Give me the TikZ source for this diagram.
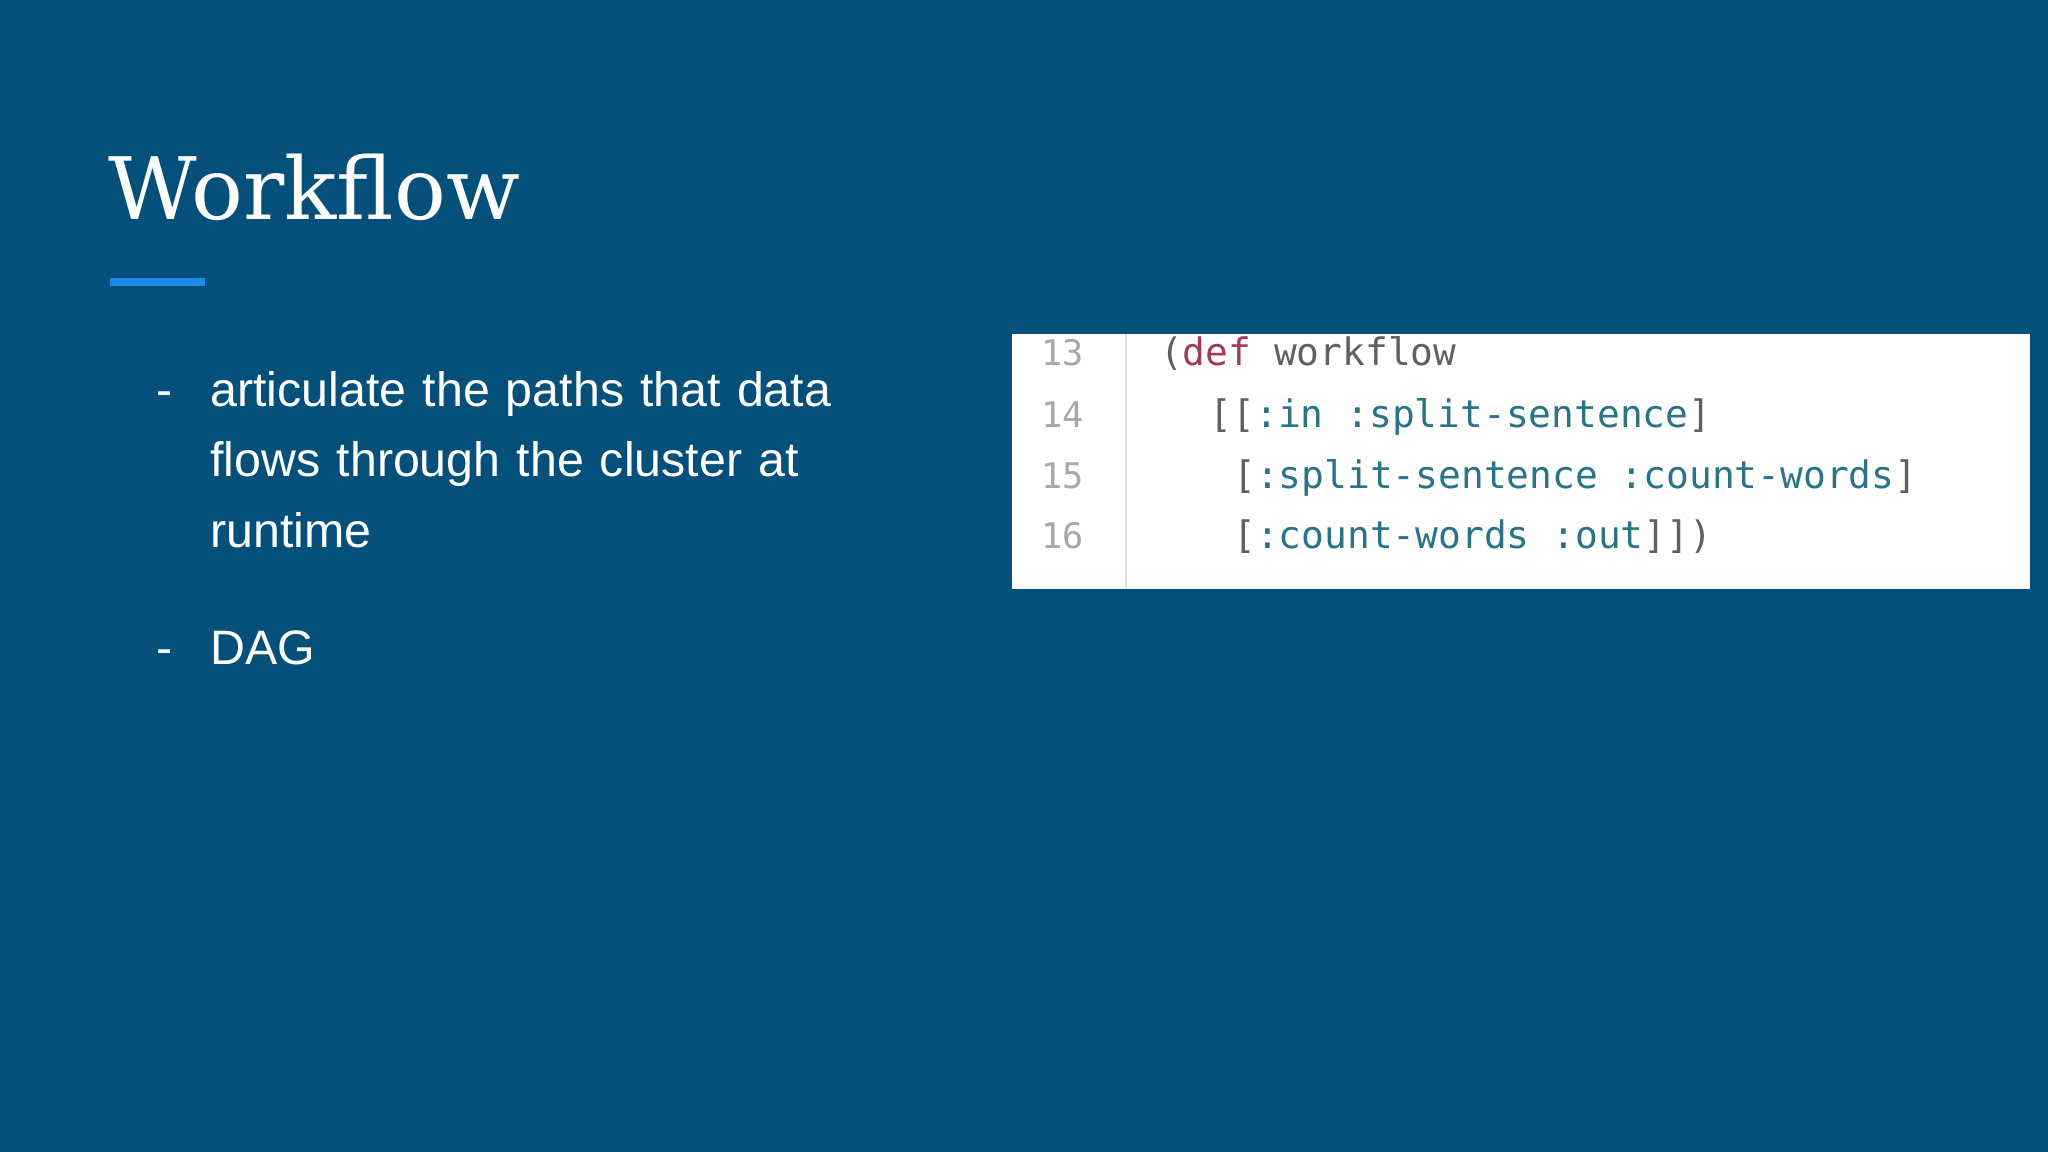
\documentclass[tikz,border=0pt]{standalone}
\usepackage{fontspec}
\setmainfont{Liberation Sans}
\newfontfamily\titlefont{DejaVu Serif}
\newfontfamily\codefont{DejaVu Sans Mono}
\definecolor{bg}{HTML}{04507A}
\definecolor{accent}{HTML}{1E88E5}
\definecolor{kw}{HTML}{2B7388}
\definecolor{defc}{HTML}{A23A5A}
\definecolor{plain}{HTML}{606060}
\definecolor{lnum}{HTML}{A8A8A8}
\tikzset{
  bodytext/.style={anchor=base west, text=white, font=\fontsize{37}{54}\selectfont, inner sep=0pt},
  codeline/.style={anchor=base west, font=\codefont\fontsize{29}{34}\selectfont, inner sep=0pt},
  numline/.style={anchor=base west, text=lnum, font=\codefont\fontsize{27}{32}\selectfont, inner sep=0pt}
}
\begin{document}
\begin{tikzpicture}[x=1pt,y=1pt]
\fill[bg] (0,0) rectangle (1568,882);
\useasboundingbox (0,0) rectangle (1568,882);
\node[anchor=base west, text=white, font=\titlefont\fontsize{66}{70}\selectfont, inner sep=0pt] (title) at (83,714) {Workflow};
\fill[accent] (84,663) rectangle (157,669);
\node[bodytext] (d1) at (120,571) {-};
\node[bodytext, align=left, text width=560pt] (b1) at (161,571) {articulate the paths that data\\flows through the cluster at\\runtime};
\node[bodytext] (d2) at (120,373) {-};
\node[bodytext] (b2) at (161,373) {DAG};
% code box
\fill[white] (775,431) rectangle (1554,626);
\draw[line width=1.2pt, black!12] (862,431) -- (862,626);
\node[numline] (n13) at (797,602) {13};
\node[numline] (n14) at (797,555) {14};
\node[numline] (n15) at (797,508) {15};
\node[numline] (n16) at (797,462) {16};
\node[codeline] (c13) at (888,602) {\textcolor{plain}{(}\textcolor{defc}{def} \textcolor{plain}{workflow}};
\node[codeline] (c14) at (926,555) {\textcolor{plain}{[[}\textcolor{kw}{:in :split-sentence}\textcolor{plain}{]}};
\node[codeline] (c15) at (944,508) {\textcolor{plain}{[}\textcolor{kw}{:split-sentence :count-words}\textcolor{plain}{]}};
\node[codeline] (c16) at (944,462) {\textcolor{plain}{[}\textcolor{kw}{:count-words :out}\textcolor{plain}{]])}};
\end{tikzpicture}
\end{document}
